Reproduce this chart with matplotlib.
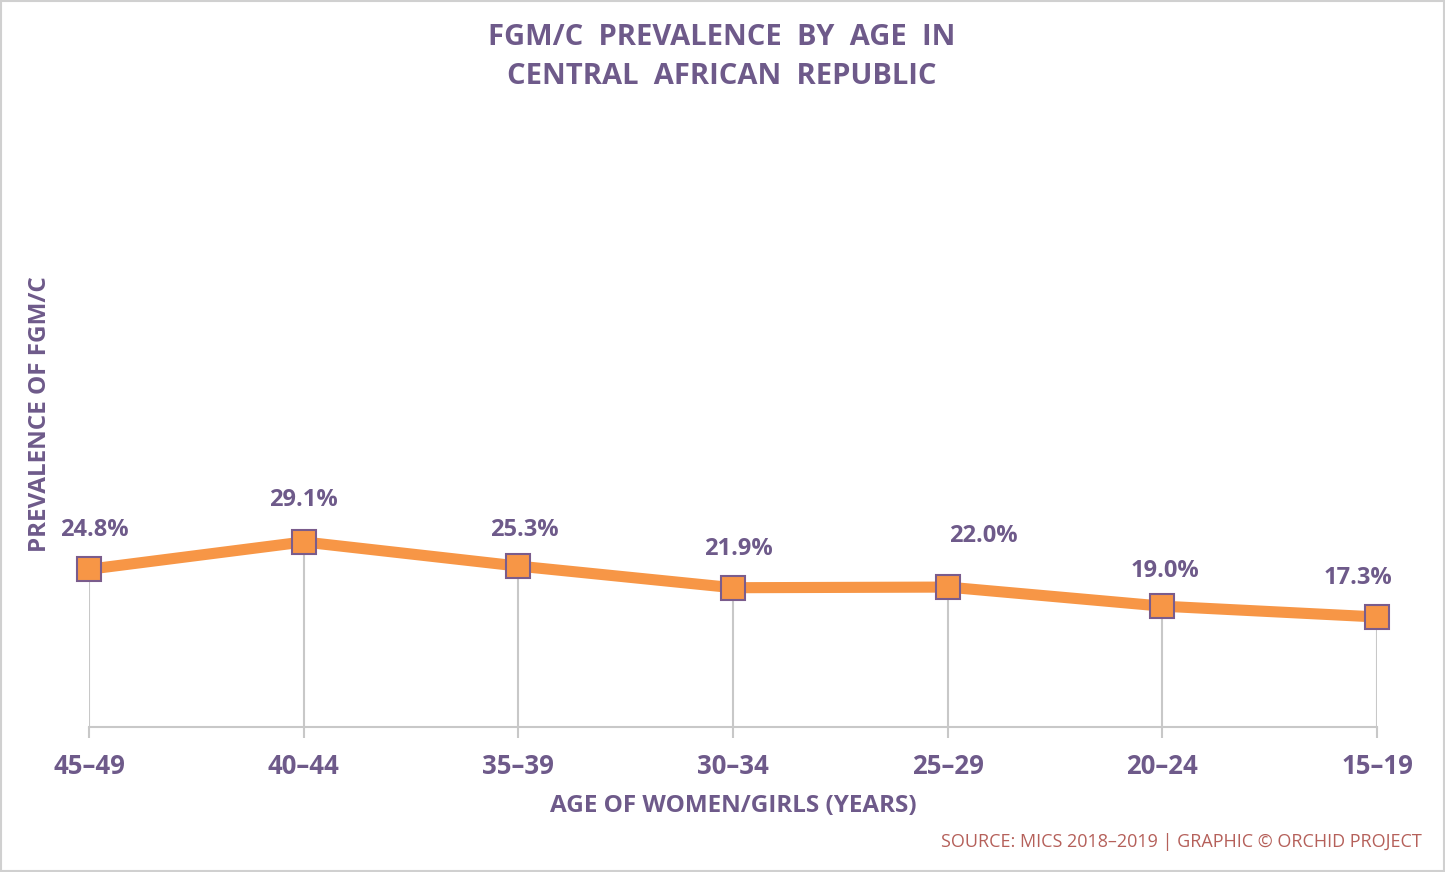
import matplotlib.pyplot as plt
from matplotlib.patches import Rectangle

plt.rcParams['font.family'] = ['Open Sans', 'DejaVu Sans']

# data
ages = ['45–49', '40–44', '35–39', '30–34', '25–29', '20–24', '15–19']
prevalence = [24.8, 29.1, 25.3, 21.9, 22.0, 19.0, 17.3]
labels = ['24.8%', '29.1%', '25.3%', '21.9%', '22.0%', '19.0%', '17.3%']

# label nudges (points) so the labels sit like the original
label_dx = [4, 0, 4, 4, 26, 2, -14]
label_dy = [28, 30, 26, 28, 37, 25, 28]

purple = '#6E5A8A'
orange = '#F79646'
grey = '#C8C8C8'

fig = plt.figure(figsize=(14.45, 8.72), dpi=100)
ax = fig.add_axes([89/1445, 1 - 727/872, (1377 - 89)/1445, (727 - 91)/872])

x = list(range(len(ages)))

# drop lines
ax.vlines(x, 0, prevalence, color=grey, lw=1.5, zorder=1)

ax.plot(x, prevalence, color=orange, lw=8, solid_capstyle='butt', zorder=2,
        clip_on=False)
ax.plot(x, prevalence, ls='none', marker='s', ms=17, mfc=orange,
        mec='#7A5C8C', mew=1.5, zorder=3, clip_on=False)

for xi, yi, lab, dx, dy in zip(x, prevalence, labels, label_dx, label_dy):
    ax.annotate(lab, (xi, yi), xytext=(dx, dy), textcoords='offset points',
                ha='center', va='center', fontsize=17, fontweight='bold',
                color=purple)

ax.set_xlim(0, len(ages) - 1)
ax.set_ylim(0, 100)
ax.set_xticks(x)
ax.set_xticklabels(ages, fontsize=18.5, fontweight='bold', color=purple)
ax.set_yticks([])
ax.tick_params(axis='x', length=8, width=1.5, color=grey, pad=11)
for s in ['top', 'right', 'left']:
    ax.spines[s].set_visible(False)
ax.spines['bottom'].set_color(grey)
ax.spines['bottom'].set_linewidth(1.5)
ax.patch.set_alpha(0)

fig.text(722/1445, 1 - 57/872, 'FGM/C  PREVALENCE  BY  AGE  IN\nCENTRAL  AFRICAN  REPUBLIC',
         ha='center', va='center', fontsize=21, fontweight='bold', color=purple,
         linespacing=1.47)
fig.text(733/1445, 1 - 806/872, 'AGE OF WOMEN/GIRLS (YEARS)', ha='center', va='center',
         fontsize=17.5, fontweight='bold', color=purple)
fig.text(40/1445, 1 - 414/872, 'PREVALENCE OF FGM/C', ha='center', va='center',
         rotation=90, fontsize=17.5, fontweight='bold', color=purple)
fig.text(1422/1445, 1 - 842/872, 'SOURCE: MICS 2018–2019 | GRAPHIC © ORCHID PROJECT',
         ha='right', va='center', fontsize=13, color='#B5605A')

# thin frame around the whole graphic
fig.patches.append(Rectangle((0.001, 0.001), 0.998, 0.998, transform=fig.transFigure,
                             fill=False, ec='#D0D0D0', lw=1.5))

fig.savefig('out.png', dpi=100)
